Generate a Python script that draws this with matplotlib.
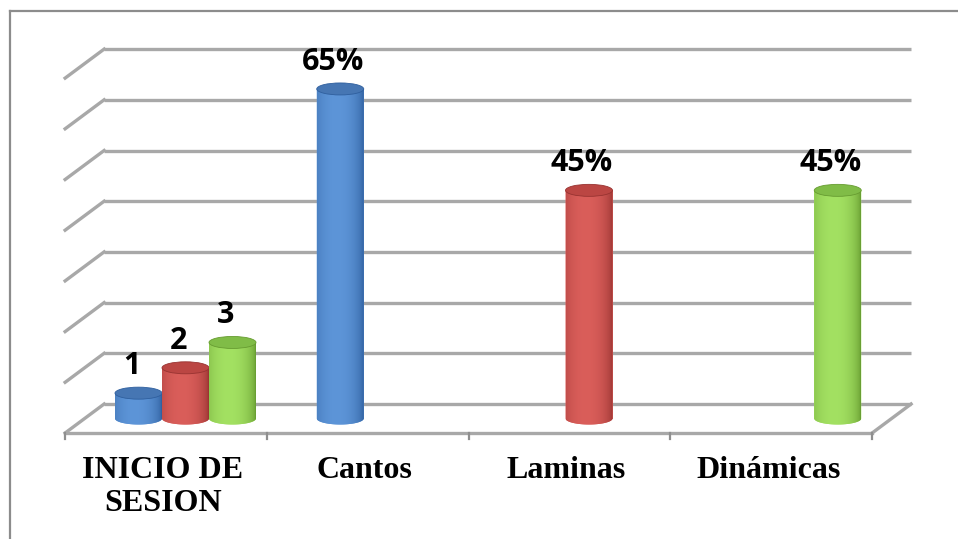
import numpy as np
import matplotlib
matplotlib.use("Agg")
import matplotlib.pyplot as plt
from matplotlib.patches import Ellipse, Polygon
from matplotlib.lines import Line2D
from matplotlib.colors import to_rgb

# ---------------- data ----------------
categories = ["INICIO DE\nSESION", "Cantos", "Laminas", "Dinámicas"]
series1 = [5, 65, 0, 0]     # blue
series2 = [10, 0, 45, 0]    # red
series3 = [15, 0, 0, 45]    # green
labels1 = ["1", "65%", "", ""]
labels2 = ["2", "", "45%", ""]
labels3 = ["3", "", "", "45%"]
grid_values = [0, 10, 20, 30, 40, 50, 60, 70]

# ---------------- layout helpers ----------------
W_PX, H_PX = 958, 539
CAT_PX = 201.75          # pixels per category
X0_PX = 166.0            # pixel x of first category centre (front plane)
Y0_PX = 433.0            # pixel y (from top) of value 0 on the front plane
PCT_PX = 5.07            # pixels per percent
DX = 39.0 / CAT_PX       # depth shift (x) in data units
DY = 29.0 / PCT_PX       # depth shift (y) in data units
BAR_W = 47.0 / CAT_PX
CAP_H = 12.0 / PCT_PX

fig = plt.figure(figsize=(W_PX / 100, H_PX / 100), dpi=100)
ax = fig.add_axes([0, 0, 1, 1])
ax.axis("off")

# outer border (left and top)
fig.add_artist(Line2D([10 / W_PX, 10 / W_PX], [0, 1 - 11 / H_PX],
                      transform=fig.transFigure, color="#8c8c8c", lw=1.6))
fig.add_artist(Line2D([10 / W_PX, 1], [1 - 11 / H_PX, 1 - 11 / H_PX],
                      transform=fig.transFigure, color="#8c8c8c", lw=1.6))

GRID_C = "#a8a8a8"
GRID_LW = 2.4
n = len(categories)
xl, xr = -0.5, n - 0.5
for v in grid_values:
    ax.plot([xl + DX, xr + DX], [v + DY, v + DY], color=GRID_C, lw=GRID_LW,
            zorder=1, solid_capstyle="butt")
    ax.plot([xl, xl + DX], [v, v + DY], color=GRID_C, lw=GRID_LW, zorder=1)
# floor front edge and right side
ax.plot([xl, xr], [0, 0], color=GRID_C, lw=GRID_LW, zorder=1)
ax.plot([xr, xr + DX], [0, DY], color=GRID_C, lw=GRID_LW, zorder=1)
for i in range(n + 1):
    xt = xl + i
    ax.plot([xt, xt], [0, -6 / PCT_PX], color="#8f8f8f", lw=1.6, zorder=1)

# ---------------- cylinders ----------------
styles = [
    ("#2f5f9e", "#5d95d8", "#4676b3"),
    ("#983331", "#da5e5a", "#bb4643"),
    ("#679c31", "#a3e162", "#80bc47"),
]
all_series = [series1, series2, series3]
all_labels = [labels1, labels2, labels3]
offsets = [-1, 0, 1]
base = DY / 2.0


def gradient_img(dark, light):
    t = np.linspace(0, 1, 64)
    m = 1 - np.clip(np.abs(t - 0.42) / 0.58, 0, 1) ** 2
    m = m ** 0.6
    d = np.array(to_rgb(dark))
    l = np.array(to_rgb(light))
    cols = d[None, :] + (l - d)[None, :] * m[:, None]
    return cols[None, :, :]


xs_cat = np.arange(n)
for s, (vals, labs, off, sty) in enumerate(zip(all_series, all_labels, offsets, styles)):
    dark, light, cap = sty
    xs = xs_cat + DX / 2 + off * BAR_W
    bars = ax.bar(xs, vals, width=BAR_W, bottom=base, color=light,
                  linewidth=0, zorder=3 + 0.1 * s)
    img = gradient_img(dark, light)
    for bar, x, v, lab in zip(bars, xs, vals, labs):
        if v <= 0:
            bar.set_visible(False)
            continue
        z = 3 + 0.1 * s
        th = np.linspace(np.pi, 2 * np.pi, 40)
        bottom_pts = np.column_stack([x + BAR_W / 2 * np.cos(th),
                                      base + CAP_H / 2 * np.sin(th)])
        pts = np.vstack([[x - BAR_W / 2, base + v], bottom_pts,
                         [x + BAR_W / 2, base + v]])
        body = Polygon(pts, closed=True, facecolor=light, edgecolor="none",
                       zorder=z)
        ax.add_patch(body)
        im = ax.imshow(img, extent=(x - BAR_W / 2, x + BAR_W / 2,
                                    base - CAP_H / 2, base + v),
                       aspect="auto", zorder=z + 0.01, interpolation="bilinear")
        im.set_clip_path(body)
        top = Ellipse((x, base + v), BAR_W, CAP_H, facecolor=cap,
                      edgecolor=dark, lw=0.6, zorder=z + 0.02)
        ax.add_patch(top)
        if lab:
            ax.text(x - 7 / CAT_PX, base + v + 27 / PCT_PX, lab,
                    ha="center", va="center", fontsize=22,
                    fontweight="bold", family="Open Sans", color="black",
                    zorder=6)

ax.set_xlim((0 - X0_PX) / CAT_PX, (W_PX - X0_PX) / CAT_PX)
ax.set_ylim((Y0_PX - H_PX) / PCT_PX, Y0_PX / PCT_PX)

# ---------------- category labels ----------------
for i, c in enumerate(categories):
    ax.text(i - 3 / CAT_PX, -(456 - Y0_PX) / PCT_PX, c, ha="center", va="top",
            fontsize=23, fontweight="bold", family="Liberation Serif",
            linespacing=1.18, multialignment="center", color="black")

fig.savefig("out.png", dpi=100)
